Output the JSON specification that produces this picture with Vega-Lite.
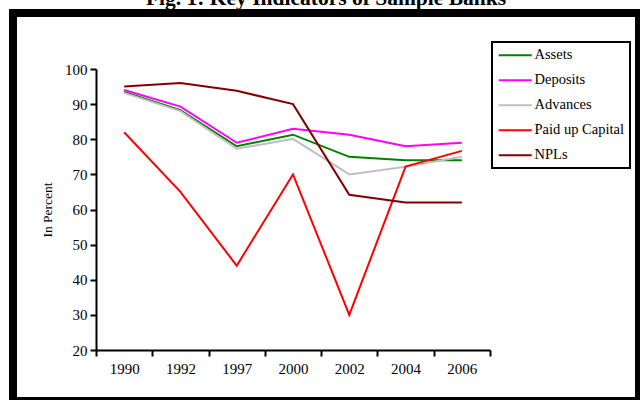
{
  "$schema": "https://vega.github.io/schema/vega-lite/v6.json",
  "autosize": "none",
  "width": 626,
  "height": 388,
  "padding": {"left": 13, "top": 13, "right": 1, "bottom": 0},
  "background": "white",
  "title": {
    "text": "Fig. 1: Key Indicators of Sample Banks",
    "font": "Liberation Serif",
    "fontSize": 21.5,
    "fontWeight": "bold",
    "color": "black",
    "anchor": "middle",
    "offset": 4
  },
  "config": {
    "view": {"stroke": "black", "strokeWidth": 8, "fill": "white"}
  },
  "data": {
    "values": [
      {"year": "1990", "series": "Assets", "value": 93.5},
      {"year": "1992", "series": "Assets", "value": 88.3},
      {"year": "1997", "series": "Assets", "value": 78},
      {"year": "2000", "series": "Assets", "value": 81.3},
      {"year": "2002", "series": "Assets", "value": 75},
      {"year": "2004", "series": "Assets", "value": 74},
      {"year": "2006", "series": "Assets", "value": 74},
      {"year": "1990", "series": "Deposits", "value": 94},
      {"year": "1992", "series": "Deposits", "value": 89.3},
      {"year": "1997", "series": "Deposits", "value": 79},
      {"year": "2000", "series": "Deposits", "value": 83},
      {"year": "2002", "series": "Deposits", "value": 81.3},
      {"year": "2004", "series": "Deposits", "value": 78},
      {"year": "2006", "series": "Deposits", "value": 79},
      {"year": "1990", "series": "Advances", "value": 93.2},
      {"year": "1992", "series": "Advances", "value": 88},
      {"year": "1997", "series": "Advances", "value": 77.3},
      {"year": "2000", "series": "Advances", "value": 80.1},
      {"year": "2002", "series": "Advances", "value": 70},
      {"year": "2004", "series": "Advances", "value": 72.2},
      {"year": "2006", "series": "Advances", "value": 75},
      {"year": "1990", "series": "Paid up Capital", "value": 82},
      {"year": "1992", "series": "Paid up Capital", "value": 65},
      {"year": "1997", "series": "Paid up Capital", "value": 44},
      {"year": "2000", "series": "Paid up Capital", "value": 70},
      {"year": "2002", "series": "Paid up Capital", "value": 30},
      {"year": "2004", "series": "Paid up Capital", "value": 72.2},
      {"year": "2006", "series": "Paid up Capital", "value": 76.7},
      {"year": "1990", "series": "NPLs", "value": 95},
      {"year": "1992", "series": "NPLs", "value": 96},
      {"year": "1997", "series": "NPLs", "value": 93.8},
      {"year": "2000", "series": "NPLs", "value": 90},
      {"year": "2002", "series": "NPLs", "value": 64.2},
      {"year": "2004", "series": "NPLs", "value": 62},
      {"year": "2006", "series": "NPLs", "value": 62}
    ]
  },
  "mark": {"type": "line", "strokeWidth": 2},
  "encoding": {
    "x": {
      "field": "year",
      "type": "ordinal",
      "sort": ["1990", "1992", "1997", "2000", "2002", "2004", "2006"],
      "bandPosition": 0.5,
      "scale": {"type": "band", "range": [83, 477], "paddingInner": 0, "paddingOuter": 0},
      "axis": {
        "title": null,
        "labelAngle": 0,
        "tickBand": "extent",
        "offset": -51,
        "grid": false,
        "domainColor": "black",
        "domainWidth": 2,
        "tickColor": "black",
        "tickWidth": 2,
        "tickSize": 6,
        "labelFont": "Liberation Serif",
        "labelFontSize": 15,
        "labelColor": "black",
        "labelPadding": 5
      }
    },
    "y": {
      "field": "value",
      "type": "quantitative",
      "scale": {"domain": [20, 100], "range": [337, 56], "nice": false, "zero": false},
      "axis": {
        "title": "In Percent",
        "values": [20, 30, 40, 50, 60, 70, 80, 90, 100],
        "offset": -83,
        "grid": false,
        "domainColor": "black",
        "domainWidth": 2,
        "tickColor": "black",
        "tickWidth": 2,
        "tickSize": 6,
        "labelFont": "Liberation Serif",
        "labelFontSize": 15,
        "labelColor": "black",
        "labelPadding": 3,
        "titleFont": "Liberation Serif",
        "titleFontSize": 13.5,
        "titleFontWeight": "normal",
        "titleColor": "black",
        "titlePadding": 10
      }
    },
    "color": {
      "field": "series",
      "type": "nominal",
      "sort": ["Assets", "Deposits", "Advances", "Paid up Capital", "NPLs"],
      "scale": {
        "domain": ["Assets", "Deposits", "Advances", "Paid up Capital", "NPLs"],
        "range": ["#008000", "#ff00ff", "#c0c0c0", "#ff0000", "#800000"]
      },
      "legend": {
        "title": null,
        "orient": "none",
        "legendX": 479,
        "legendY": 29,
        "strokeColor": "black",
        "fillColor": "white",
        "padding": 6,
        "symbolType": "M-2.75,0H2.75",
        "symbolSize": 144,
        "symbolStrokeWidth": 2,
        "symbolOffset": 10,
        "labelFont": "Liberation Serif",
        "labelFontSize": 14.5,
        "labelColor": "black",
        "labelOffset": 12,
        "rowPadding": 10,
        "encode": {"legend": {"update": {"strokeWidth": {"value": 2}}}}
      }
    }
  }
}
